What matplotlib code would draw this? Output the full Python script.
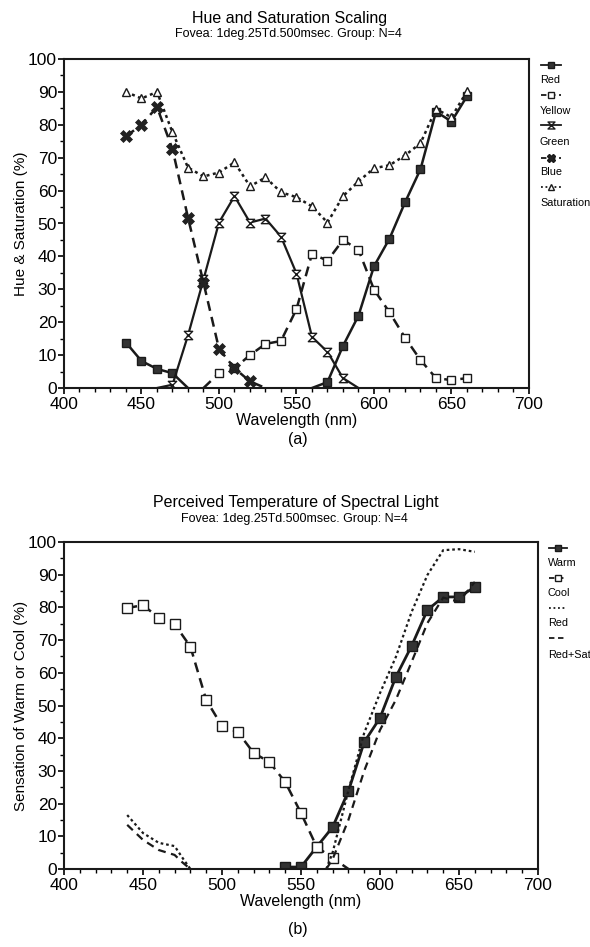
import numpy as np
import matplotlib
matplotlib.use("Agg")
import matplotlib.pyplot as plt
from matplotlib.lines import Line2D
from matplotlib.path import Path

plt.rcParams['font.family'] = ['Liberation Sans', 'DejaVu Sans']

nan = np.nan

# ---- (a) Hue and Saturation Scaling ----
wl = [440, 450, 460, 470, 480, 490, 500, 510, 520, 530, 540, 550,
      560, 570, 580, 590, 600, 610, 620, 630, 640, 650, 660]
red = [13.8, 8.2, 5.8, 4.5, 0, nan, nan, nan, nan, nan, nan, nan,
       0, 1.8, 12.8, 22, 37, 45.4, 56.4, 66.5, 84, 81, 88.7]
yellow = [nan, nan, nan, nan, nan, 0, 4.5, 6, 10, 13.4, 14.3, 24,
          40.8, 38.7, 45, 42, 29.9, 23, 15.3, 8.5, 3, 2.4, 3]
green = [nan, nan, 0, 1, 16, 33, 50.3, 58.3, 50.3, 51.5, 46, 34.8,
         15.5, 11, 3, 0, nan, nan, nan, nan, nan, nan, nan]
blue = [76.5, 80, 85.4, 72.6, 51.8, 32, 11.9, 6, 2, 0, nan, nan,
        nan, nan, nan, nan, nan, nan, nan, nan, nan, nan, nan]
saturation = [90, 88, 90, 77.7, 67, 64.3, 65.5, 68.6, 61.3, 64, 59.5, 58,
              55.2, 50.3, 58.3, 62.8, 66.8, 67.7, 70.7, 74.4, 84.8, 82.3, 90.2]

# ---- (b) Perceived Temperature of Spectral Light ----
warm = [nan, nan, nan, nan, nan, nan, nan, nan, nan, nan, 0.6, 0.6,
        6.8, 12.8, 23.8, 38.8, 46.2, 58.7, 68.2, 79.2, 83.2, 83.2, 86.2]
cool = [79.8, 80.7, 76.8, 74.9, 68, 51.7, 43.7, 41.9, 35.5, 32.7, 26.6, 17.1,
        6.7, 3.4, 0, nan, nan, nan, nan, nan, nan, nan, nan]
wl_line = [440, 450, 460, 470, 475, 480, 520, 566, 570, 580, 590, 600,
           610, 620, 630, 640, 650, 660]
red_b = [16.5, 11, 8, 7, 3.4, 0, nan, 0, 5, 24, 41.6, 53.8,
         64.8, 78.6, 89.9, 97.5, 97.8, 97]
red_sat = [13.5, 8.9, 5.8, 4.3, 2, 0, nan, 0, 3, 15, 30, 42.5,
           51.7, 63.3, 75.2, 83, 81.7, 87.8]

ink = '#1a1a1a'
hourglass = Path([(-1, 1), (1, 1), (-1, -1), (1, -1), (-1, 1)],
                 [Path.MOVETO, Path.LINETO, Path.LINETO, Path.LINETO, Path.CLOSEPOLY])

W, H = 590, 947
fig = plt.figure(figsize=(W / 100, H / 100), dpi=100)


def fx(px):
    return px / W


def fy(py):
    return 1 - py / H


def series(ax, x, y, ls, lw, marker=None, ms=6, mfc='white', mew=1.0):
    x = np.array(x, float)
    y = np.array(y, float)
    ax.plot(x, y, color=ink, ls=ls, lw=lw, clip_on=True)
    if marker is not None:
        keep = y > 0.4
        ax.plot(x[keep], y[keep], ls='none', marker=marker, ms=ms, mfc=mfc,
                mec=ink, mew=mew)


def style_axes(ax, ylabel):
    ax.set_xlim(400, 700)
    ax.set_ylim(0, 100)
    ax.set_xticks(range(400, 701, 50))
    ax.set_xticks(range(400, 701, 10), minor=True)
    ax.set_yticks(range(0, 101, 10))
    ax.set_yticks(range(0, 101, 5), minor=True)
    ax.tick_params(which='major', direction='out', length=4, width=1.2,
                   labelsize=12.5, pad=1)
    ax.tick_params(axis='x', which='major', pad=2.5)
    ax.tick_params(which='minor', direction='out', length=3, width=1)
    ax.set_xlabel('Wavelength (nm)', fontsize=11.5, labelpad=1)
    ax.set_ylabel(ylabel, fontsize=11, labelpad=0)
    for s in ax.spines.values():
        s.set_linewidth(1.5)
        s.set_color(ink)


def legend_item(px0, px1, py, ty, label, ls, marker=None, mfc='white', ms=5):
    xm = (px0 + px1) / 2
    ln = Line2D([fx(px0), fx(xm), fx(px1)], [fy(py)] * 3, transform=fig.transFigure,
                color=ink, ls=ls, lw=1.3, marker=marker, markevery=[1], ms=ms,
                mfc=mfc, mec=ink)
    fig.add_artist(ln)
    fig.text(fx(px0 - 1), fy(ty), label, fontsize=7.8, va='center', ha='left')


# ---------- panel (a) ----------
ax1 = fig.add_axes([fx(64), fy(388), fx(529) - fx(64), fy(59) - fy(388)])
series(ax1, wl, red, '-', 1.8, 's', ms=6, mfc='#333333')
series(ax1, wl, yellow, (0, (4, 2.5)), 1.8, 's', ms=6)
series(ax1, wl, green, '-', 1.6, hourglass, ms=6, mfc='white')
series(ax1, wl, blue, (0, (4, 2.5)), 1.8, 'X', ms=8, mfc='#222222', mew=0.5)
series(ax1, wl, saturation, (0, (1.2, 1.4)), 1.8, '^', ms=6)
style_axes(ax1, 'Hue & Saturation (%)')

fig.text(fx(290), fy(19), 'Hue and Saturation Scaling', fontsize=11.5,
         ha='center', va='center')
fig.text(fx(288), fy(34), 'Fovea: 1deg.25Td.500msec. Group: N=4', fontsize=9,
         ha='center', va='center')
fig.text(fx(298), fy(439), '(a)', fontsize=11.5, ha='center', va='center')

legend_item(541, 561, 65, 80, 'Red', '-', 's', mfc='#333333')
legend_item(541, 561, 95, 111, 'Yellow', (0, (3, 2)), 's')
legend_item(541, 561, 125, 142, 'Green', '-', hourglass)
legend_item(541, 561, 158, 172, 'Blue', (0, (3, 2)), 'X', mfc='#222222', ms=6)
legend_item(541, 561, 187, 203, 'Saturation', (0, (1, 1.5)), '^')

# ---------- panel (b) ----------
ax2 = fig.add_axes([fx(64), fy(869), fx(538) - fx(64), fy(542) - fy(869)])
series(ax2, wl, warm, '-', 2.0, 's', ms=7, mfc='#333333')
series(ax2, wl, cool, (0, (4, 2.5)), 1.8, 's', ms=7)
series(ax2, wl_line, red_b, (0, (1.2, 1.3)), 1.6)
series(ax2, wl_line, red_sat, (0, (3.5, 2.5)), 1.6)
style_axes(ax2, 'Sensation of Warm or Cool (%)')

fig.text(fx(296), fy(502), 'Perceived Temperature of Spectral Light', fontsize=11.5,
         ha='center', va='center')
fig.text(fx(294), fy(519), 'Fovea: 1deg.25Td.500msec. Group: N=4', fontsize=9,
         ha='center', va='center')
fig.text(fx(298), fy(929), '(b)', fontsize=11.5, ha='center', va='center')

legend_item(549, 567, 548, 563, 'Warm', '-', 's', mfc='#333333')
legend_item(549, 567, 578, 593, 'Cool', (0, (3, 2)), 's')
legend_item(549, 567, 608, 623, 'Red', (0, (1, 1.5)))
legend_item(549, 567, 638, 655, 'Red+Sat', (0, (3, 2)))

fig.savefig('out.png', dpi=100, facecolor='white')
